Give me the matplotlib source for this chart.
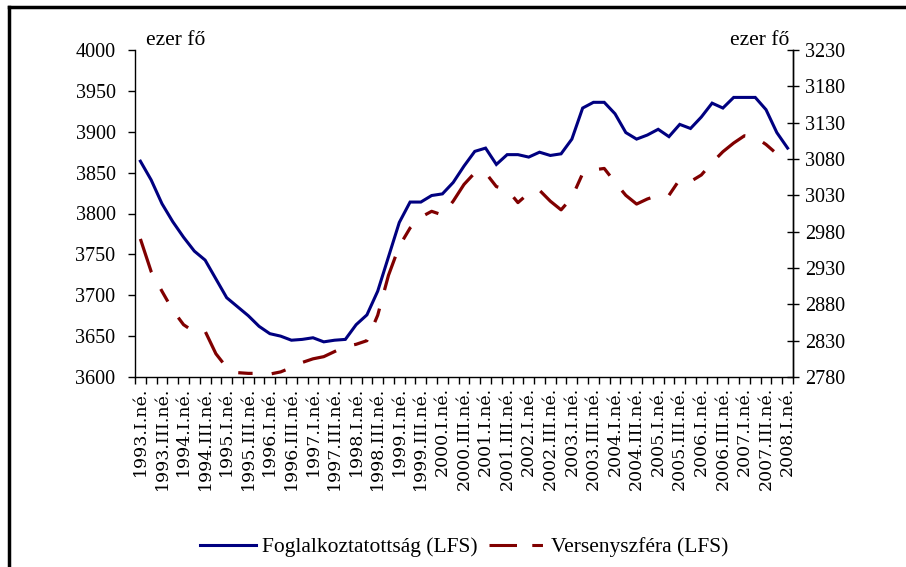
import matplotlib
matplotlib.use("Agg")
import matplotlib.pyplot as plt
from matplotlib.lines import Line2D
import numpy as np

quarters = [f"{y}.{q}.né." for y in range(1993, 2009) for q in ["I", "II", "III", "IV"]][:61]

foglalkoztatottsag = [3864, 3841, 3812, 3790, 3771, 3754, 3743, 3720, 3697, 3686,
                      3675, 3662, 3653, 3650, 3645, 3646, 3648, 3643, 3645, 3646,
                      3664, 3676, 3705, 3747, 3789, 3814, 3814, 3822, 3824, 3838,
                      3858, 3876, 3880, 3860, 3872, 3872, 3869, 3875, 3871, 3873,
                      3891, 3929, 3936, 3936, 3922, 3899, 3891, 3896, 3903, 3894,
                      3909, 3904, 3918, 3935, 3929, 3942, 3942, 3942, 3927, 3899,
                      3880]

versenyszfera = [2970, 2925, 2898, 2872, 2852, 2842, 2843, 2812, 2793, 2786,
                 2785, 2785, 2784, 2787, 2793, 2800, 2805, 2808, 2815, 2822,
                 2825, 2830, 2865, 2920, 2960, 2985, 3000, 3008, 3003, 3022,
                 3045, 3061, 3061, 3042, 3038, 3020, 3033, 3037, 3022, 3010,
                 3027, 3060, 3065, 3067, 3048, 3030, 3018, 3025, 3030, 3030,
                 3052, 3049, 3058, 3075, 3090, 3102, 3112, 3110, 3100, 3087,
                 3087]

left_ticks = list(range(3600, 4001, 50))
right_ticks = list(range(2780, 3231, 50))

serif = ["Liberation Serif", "DejaVu Serif"]
plt.rcParams["font.family"] = serif

fig = plt.figure(figsize=(9.06, 5.67), dpi=100)
ax = fig.add_axes([135/906, 1-377/567, (793-135)/906, (377-50)/567])
ax2 = ax.twinx()

x = np.arange(len(quarters))
blue = "#000080"
red = "#800000"
ax.plot(x, foglalkoztatottsag, color=blue, lw=2.2, solid_joinstyle="miter")
dash = (0, (11, 6, 4.5, 6, 4.5, 6))
ax2.plot(x, versenyszfera, color=red, lw=2.3, linestyle=dash, dash_capstyle="butt")

ax.set_xlim(-0.5, len(quarters) - 0.5)
ax.set_ylim(3600, 4000)
ax2.set_ylim(2780, 3230)
ax.set_yticks(left_ticks)
ax2.set_yticks(right_ticks)

ax.set_xticks(x[::2])
ax.set_xticklabels(quarters[::2], rotation=90, fontsize=12.5, va="top", ha="center",
                   family=["DejaVu Serif"])
ax.set_xticks(np.arange(-0.5, len(quarters), 1), minor=True)
ax.tick_params(axis="x", which="major", length=0, pad=7)
ax.tick_params(axis="x", which="minor", length=5, direction="out", width=1)
ax.tick_params(axis="y", length=5, direction="out", width=1, labelsize=14.5, pad=9)
ax2.tick_params(axis="y", length=9, direction="inout", width=1, labelsize=14.5, pad=4)

for a in (ax, ax2):
    a.spines["top"].set_visible(False)
    for s in a.spines.values():
        s.set_linewidth(1)
ax2.spines["left"].set_visible(False)
ax2.spines["bottom"].set_visible(False)

fig.text(146/906, 1-45/567, "ezer fő", fontsize=15.5, ha="left", va="baseline")
fig.text(789/906, 1-45/567, "ezer fő", fontsize=15.5, ha="right", va="baseline")

handles = [Line2D([], [], color=blue, lw=2.2),
           Line2D([], [], color=red, lw=2.2, linestyle=(0, (9, 5, 3.5, 5, 3.5, 5)), dash_capstyle="butt")]
fig.legend(handles, ["Foglalkoztatottság (LFS)", "Versenyszféra (LFS)"],
           loc="center", bbox_to_anchor=(464/906, 1-547/567), ncol=2, frameon=False,
           fontsize=15.5, handlelength=2.6, handletextpad=0.3, columnspacing=0.5)

fig.add_artist(Line2D([9/906, 9/906], [0, 1-7/567], transform=fig.transFigure, color="black", lw=2.5))
fig.add_artist(Line2D([9/906, 1], [1-7/567, 1-7/567], transform=fig.transFigure, color="black", lw=2.5))

fig.savefig("out.png", dpi=100)
